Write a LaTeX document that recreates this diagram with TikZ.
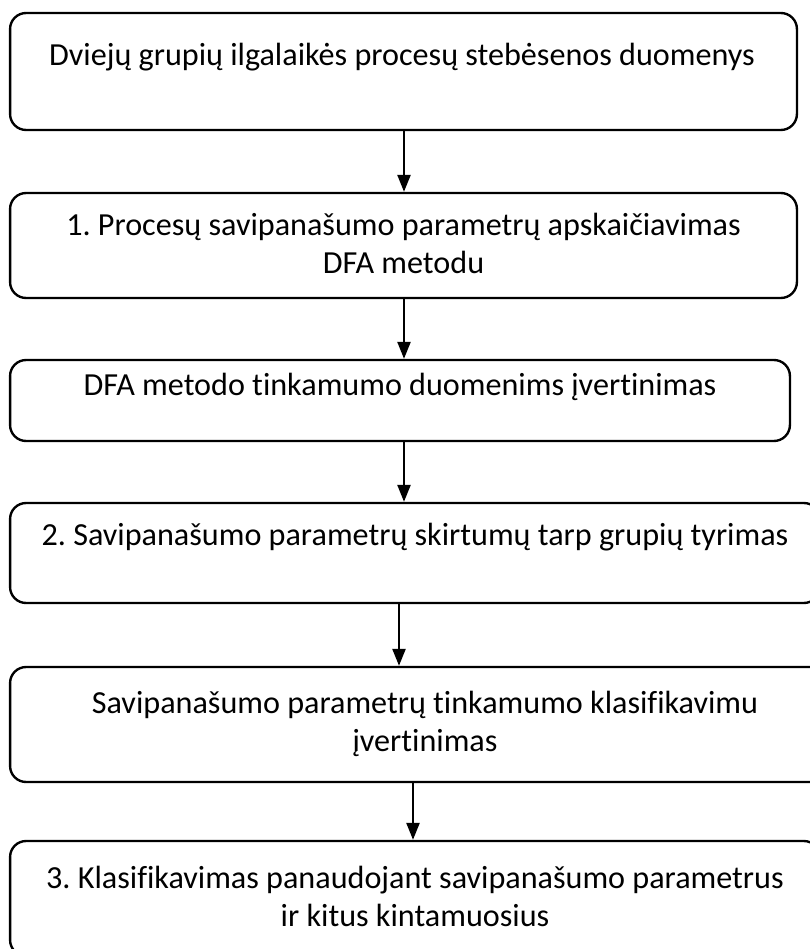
\documentclass[tikz,border=0pt]{standalone}
\usepackage{fontspec}
\setmainfont[Ligatures=NoCommon]{Carlito}
\usetikzlibrary{arrows.meta}
\frenchspacing

\begin{document}
\begin{tikzpicture}[x=0.02cm, y=-0.02cm,
        % stiliai
        stepbox/.style={
            draw=black,
            line width=1.35pt,
            rounded corners=0.32cm,
            inner sep=0pt
        },
        steptext/.style={
            align=center,
            font=\fontsize{18.3}{21.5}\selectfont
        },
        arr/.style={-{Triangle[length=0.34cm, width=0.26cm]}, line width=1.35pt}
    ]
        \useasboundingbox (0,0) rectangle (809,949);

        % Nodes
        \node[stepbox, minimum width=15.74cm, minimum height=2.34cm] (duom) at (403.5,71.5) {};
        \node[stepbox, minimum width=15.74cm, minimum height=2.10cm] (dfa) at (403.5,245.5) {};
        \node[stepbox, minimum width=15.60cm, minimum height=1.62cm] (tink) at (400,400.5) {};
        \node[stepbox, minimum width=16.20cm, minimum height=2.00cm] (skirt) at (415,553) {};
        \node[stepbox, minimum width=16.60cm, minimum height=2.30cm] (klasv) at (425,724.5) {};
        \node[stepbox, minimum width=16.20cm, minimum height=2.30cm] (klas) at (415,898.5) {};

        % Texts
        \node[steptext] (duomt) at (402,57) {Dviejų grupių ilgalaikės procesų stebėsenos duomenys};
        \node[steptext] (dfat) at (403.5,243.5) {1. Procesų savipanašumo parametrų apskaičiavimas\\DFA metodu};
        \node[steptext] (tinkt) at (400,387) {DFA metodo tinkamumo duomenims įvertinimas};
        \node[steptext] (skirtt) at (415,537) {2. Savipanašumo parametrų skirtumų tarp grupių tyrimas};
        \node[steptext] (klasvt) at (425,724) {Savipanašumo parametrų tinkamumo klasifikavimu\\įvertinimas};
        \node[steptext] (klast) at (415,896.5) {3. Klasifikavimas panaudojant savipanašumo parametrus\\ir kitus kintamuosius};

        % Lines
        \draw[arr] (duom.south -| 404,0) -- (dfa.north -| 404,0);
        \draw[arr] (dfa.south -| 404,0) -- (tink.north -| 404,0);
        \draw[arr] (tink.south -| 404,0) -- (skirt.north -| 404,0);
        \draw[arr] (skirt.south -| 399,0) -- (klasv.north -| 399,0);
        \draw[arr] (klasv.south -| 413,0) -- (klas.north -| 413,0);

    \end{tikzpicture}
\end{document}
